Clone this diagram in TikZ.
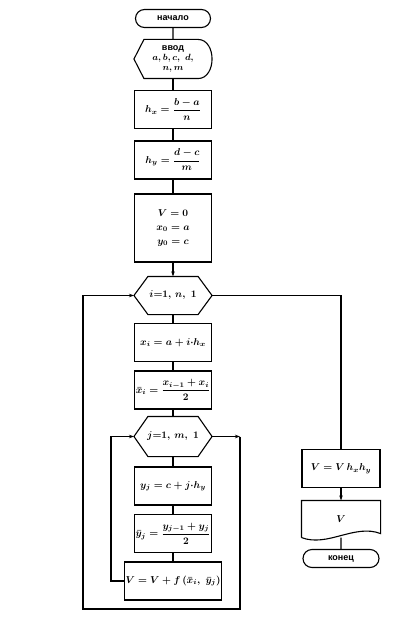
\documentclass[tikz,border=0pt]{standalone}
\usepackage{fontspec}
\usepackage{amsmath}
\usepackage{tikz}
\usetikzlibrary{shapes.misc}
\usetikzlibrary{arrows.meta}
\usetikzlibrary{calc}
\newfontfamily\rusf{Liberation Sans}

% hexagon (loop header) drawn round a bare node
\newcommand\hexframe[1]{%
  \draw (#1.west) -- ([xshift=14pt]#1.north west) -- ([xshift=-14pt]#1.north east)
     -- (#1.east) -- ([xshift=-14pt]#1.south east) -- ([xshift=14pt]#1.south west) -- cycle;}

\begin{document}
\begin{tikzpicture}[x=1pt, y=-1pt, line width=1.1pt,
  >={Stealth[length=5pt,width=3.5pt]},
  every node/.style={font=\boldmath},
  block/.style={draw, rectangle, minimum width=77pt, minimum height=38pt, inner sep=1pt, align=center},
  term/.style={draw, rounded rectangle, minimum width=77pt, minimum height=18pt, inner sep=1pt,
    font=\rusf\bfseries\fontsize{9}{10}\selectfont},
  bare/.style={rectangle, minimum width=77pt, minimum height=38pt, inner sep=1pt, align=center}]

\useasboundingbox (0,0) rectangle (409,617);

\def\xm{173}   % main column
\def\xr{341}   % right column

%---------------------------------------
% Main column
%---------------------------------------
\node[term] (start) at (\xm,18.5) {начало};

\node[bare, font=\boldmath\fontsize{9}{10}\selectfont] (inp) at (\xm,59)
  {{\rusf\bfseries ввод}\\ $a, b, c,\ d,$\\ $n, m$};
\draw (inp.west) -- ([xshift=10pt]inp.north west) -- ([xshift=-14pt]inp.north east)
   to[out=0,in=90] (inp.east) to[out=-90,in=0] ([xshift=-14pt]inp.south east)
   -- ([xshift=10pt]inp.south west) -- cycle;

\node[block] (hx) at (\xm,109.5) {$h_x = \dfrac{b-a}{n}$};
\node[block] (hy) at (\xm,160) {$h_y = \dfrac{d-c}{m}$};
\node[block, minimum height=68pt] (v0) at (\xm,228) {$V = 0$\\[2pt] $x_0 = a$\\[2pt] $y_0 = c$};

% outer loop
\node[bare, minimum height=37pt] (hi) at (\xm,295.5) {$i{=}1,\,n,\ 1$};
\hexframe{hi}
\node[block] (xi) at (\xm,342.5) {$x_i = a + i{\cdot}h_x$};
\node[block] (xb) at (\xm,390) {$\bar{x}_i = \dfrac{x_{i-1}+x_i}{2}$};

% inner loop
\node[bare, minimum height=39pt] (hj) at (\xm,436.5) {$j{=}1,\,m,\ 1$};
\hexframe{hj}
\node[block] (yj) at (\xm,486) {$y_j = c + j{\cdot}h_y$};
\node[block] (yb) at (\xm,533.5) {$\bar{y}_j = \dfrac{y_{j-1}+y_j}{2}$};
\node[block, minimum width=93pt] (vf) at (\xm,581) {$V = V + f\,(\bar{x}_i,\ \bar{y}_j)$};

%---------------------------------------
% Right column
%---------------------------------------
\node[block, minimum width=78pt] (vv) at (\xr,468.5) {$V = V\,h_x h_y$};
\node[bare, minimum width=78pt, minimum height=36pt] (doc) at (\xr,519) {$V$};
\draw (doc.south west) -- (doc.north west) -- (doc.north east) -- ([yshift=4pt]doc.south east)
   .. controls +(-26,-10) and +(26,10) .. (doc.south west);
\node[term, minimum width=78pt] (end) at (\xr,558.5) {конец};

% loop corners
\coordinate (jout) at (240,436.5);
\coordinate (lb) at (83,609);
\coordinate (il) at (111,581);

%---------------------------------------
% Connectors
%---------------------------------------
\draw (start) -- (inp);
\draw (inp) -- (hx);
\draw (hx) -- (hy);
\draw (hy) -- (v0);
\draw[->] (v0) -- (hi);
\draw (hi) -- (xi);
\draw (xi) -- (xb);
\draw (xb) -- (hj);
\draw (hj) -- (yj);
\draw (yj) -- (yb);
\draw (yb) -- (vf);

% inner loop back edge and exit
\draw[->] (vf.west) -- (il) |- (hj.west);
\draw[->] (hj.east) -- (jout);
\draw[->] (jout) |- (lb) |- (hi.west);

% outer loop exit
\draw (hi.east) -| (vv.north);
\draw[->] (vv) -- (doc);
\draw (doc) -- (end);

\end{tikzpicture}
\end{document}
